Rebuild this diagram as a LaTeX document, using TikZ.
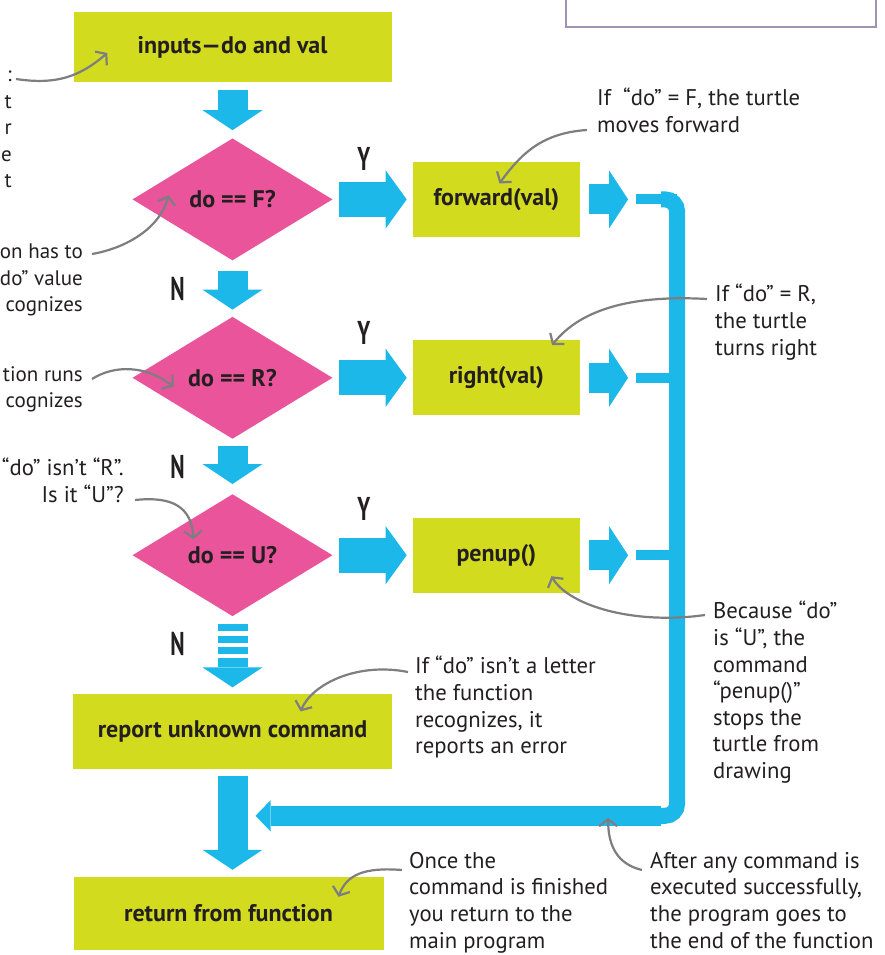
\documentclass[tikz,border=0pt]{standalone}
\usepackage{fontspec}
\setmainfont{PT Sans}
\usepackage{graphicx}
\usetikzlibrary{shapes.geometric, arrows.meta, positioning, calc}

\definecolor{boxgreen}{RGB}{211,219,31}
\definecolor{decpink}{RGB}{233,84,155}
\definecolor{flowblue}{RGB}{28,184,233}
\definecolor{notegray}{RGB}{125,125,130}
\definecolor{inkdark}{RGB}{35,31,32}
\definecolor{framelilac}{RGB}{160,146,180}

\newcommand{\yn}[1]{\scalebox{0.66}[1]{\fontsize{33}{33}\selectfont\bfseries #1}}

\begin{document}
\begin{tikzpicture}[
    x=1pt, y=-1pt,
    every node/.style={text=inkdark},
    block/.style={rectangle, fill=boxgreen, minimum height=75pt, inner sep=0pt, font=\fontsize{24}{28}\selectfont\bfseries},
    decision/.style={diamond, fill=decpink, minimum width=200pt, minimum height=122pt, inner sep=0pt, font=\fontsize{24}{28}\selectfont\bfseries},
    flow/.style={draw=flowblue, line width=30pt, -{Triangle[width=60pt,length=20pt,line width=0pt]}},
    yesflow/.style={draw=flowblue, line width=35pt, -{Triangle[width=58pt,length=21pt,line width=0pt]}},
    outflow/.style={draw=flowblue, line width=30pt, -{Triangle[width=58pt,length=19pt,line width=0pt]}},
    bus/.style={draw=flowblue, line width=16pt},
    stub/.style={draw=flowblue, line width=10pt},
    note/.style={font=\fontsize{22.7}{26.6}\selectfont, inner sep=0pt, execute at begin node=\strut},
    notefrag/.style={note, font=\fontsize{21}{26.4}\selectfont, anchor=north east, align=right},
    callout/.style={draw=notegray, line width=2.2pt, -{Straight Barb[length=7pt,width=18pt]}},
    yn/.style={inner sep=0pt}
]
    \clip (0,0) rectangle (884,955);

    % frame at the top
    \draw[framelilac, line width=2.5pt] (566,-10) rectangle (876,27);

    % Nodes
    \node [block, minimum width=318pt, minimum height=70pt] (inputs) at (232.5,47) {inputs---do and val};

    \node [decision, below=56pt of inputs] (d1) {do == F?};
    \node [decision, below=56pt of d1] (d2) {do == R?};
    \node [decision, below=55pt of d2] (d3) {do == U?};

    \node [block, minimum width=167pt, right=80pt of d1] (fwd) {forward(val)};
    \node [block, minimum width=167pt, right=80pt of d2] (rgt) {right(val)};
    \node [block, minimum width=167pt, right=80pt of d3] (pen) {penup()};

    \node [block, minimum width=319pt, below=77pt of d3] (report) {report unknown command};
    \node [block, minimum width=310pt, minimum height=73pt, below=108pt of report, xshift=-4pt] (retbox) {return from function};

    \coordinate (j1) at ($(fwd.east)+(97,0)$);
    \coordinate (j2) at ($(rgt.east)+(97,0)$);
    \coordinate (j3) at ($(pen.east)+(97,0)$);
    \coordinate (merge) at ($(report.south)+(23,47)$);
    \coordinate (jb) at (j1 |- merge);

    % Y / N labels
    \node [yn] at ($(d1.east)!0.5!(fwd.west)+(-9,-40)$) {\yn{Y}};
    \node [yn] at ($(d2.east)!0.5!(rgt.west)+(-9,-45)$) {\yn{Y}};
    \node [yn] at ($(d3.east)!0.5!(pen.west)+(-9,-46)$) {\yn{Y}};
    \node [yn] at ($(d1.south)!0.5!(d2.north)+(-55,0)$) {\yn{N}};
    \node [yn] at ($(d2.south)!0.5!(d3.north)+(-55,0)$) {\yn{N}};
    \node [yn] at ($(d3.south)+(-55,28)$) {\yn{N}};

    % Connections
    \draw [flow] ($(inputs.south)+(0,8)$) -- ($(d1.north)+(0,-8)$);
    \draw [flow] ($(d1.south)+(0,10)$) -- ($(d2.north)+(0,-7)$);
    \draw [flow] ($(d2.south)+(0,7)$) -- ($(d3.north)+(0,-10)$);
    \foreach \yy in {8,20,31}
        \draw [flowblue, line width=30pt] ($(d3.south)+(0,\yy)$) -- ++(0,7);
    \draw [flow] ($(d3.south)+(0,42)$) -- ($(report.north)+(0,-6)$);
    \draw [flow] ($(report.south)+(0,7)$) -- ($(report.south)+(0,101)$);

    \draw [yesflow] ($(d1.east)+(6,0)$) -- ($(fwd.west)+(-6,0)$);
    \draw [yesflow] ($(d2.east)+(6,0)$) -- ($(rgt.west)+(-6,0)$);
    \draw [yesflow] ($(d3.east)+(6,0)$) -- ($(pen.west)+(-6,0)$);

    \draw [outflow] ($(fwd.east)+(9,0)$) -- ++(39,0);
    \draw [outflow] ($(rgt.east)+(9,0)$) -- ++(39,0);
    \draw [outflow] ($(pen.east)+(9,0)$) -- ++(39,0);

    \draw [bus, rounded corners=12pt] ($(j1)+(-16,0)$) -- (j1) -- (jb) -- ($(jb)+(-30,0)$);
    \draw [stub] ($(fwd.east)+(56,0)$) -- (j1);
    \draw [stub] ($(rgt.east)+(56,0)$) -- (j2);
    \draw [stub] ($(pen.east)+(56,0)$) -- (j3);
    \draw [draw=flowblue, line width=20pt, -{Triangle[width=31pt,length=15pt,line width=0pt]}] ($(jb)+(-16,0)$) -- (merge);

    % Notes
    \node [notefrag] (fa) at (12,71) {:\\t\\r\\e\\t};
    \node [notefrag] (fb) at (83,244) {on has to\\do” value\\cognizes};
    \node [notefrag] (fc) at (83,366) {tion runs\\cognizes};
    \node [note, anchor=north east, align=right] (fd) at (124,458) {“do” isn’t “R”.\\Is it “U”?};
    \node [note, anchor=north west, align=left] (nF) at (597,88) {If\ \ “do” = F, the turtle\\moves forward};
    \node [note, anchor=north west, align=left] (nR) at (715,284) {If “do” = R,\\the turtle\\turns right};
    \node [note, anchor=north west, align=left] (nU) at (713,601) {Because “do”\\is “U”, the\\command\\“penup()”\\stops the\\turtle from\\drawing};
    \node [note, anchor=north west, align=left] (nX) at (415,656) {If “do” isn’t a letter\\the function\\recognizes, it\\reports an error};
    \node [note, anchor=north west, align=left] (nO) at (409,852) {Once the\\command is finished\\you return to the\\main program};
    \node [note, anchor=north west, align=left] (nA) at (650,852) {After any command is\\executed successfully,\\the program goes to\\the end of the function};

    \draw [callout] ($(fa.north east)+(4,8)$) .. controls +(40,6) and +(-28,24) .. ($(inputs.west)+(34,6)$);
    \draw [callout] ($(fb.north east)+(9,10)$) .. controls +(35,-6) and +(-8,32) .. ($(d1.center)+(-64,-4)$);
    \draw [callout] ($(fc.north east)+(9,13)$) .. controls +(22,-14) and +(-28,-22) .. ($(d2.center)+(-59,9)$);
    \draw [callout] ($(fd.north east)+(11,42)$) .. controls +(38,-4) and +(-2,-32) .. ($(d3.center)+(-39,-16)$);
    \draw [callout] ($(nF.north west)+(-10,42)$) .. controls +(-45,3) and +(22,-30) .. ($(fwd.center)+(3,-16)$);
    \draw [callout] ($(nR.north west)+(-8,15)$) .. controls +(-70,-4) and +(30,-38) .. ($(rgt.north east)+(-28,5)$);
    \draw [callout] ($(nU.north west)+(-8,14)$) .. controls +(-70,10) and +(18,30) .. ($(pen.center)+(55,21)$);
    \draw [callout] ($(nX.north west)+(-7,16)$) .. controls +(-50,-10) and +(12,-28) .. ($(report.north)+(68,18)$);
    \draw [callout] ($(nO.north west)+(-7,18)$) .. controls +(-38,-3) and +(8,-22) .. ($(retbox.north)+(110,20)$);
    \draw [callout] ($(nA.north west)+(-8,18)$) .. controls +(-25,-6) and +(0,28) .. ($(jb)+(-69,2)$);

\end{tikzpicture}
\end{document}
